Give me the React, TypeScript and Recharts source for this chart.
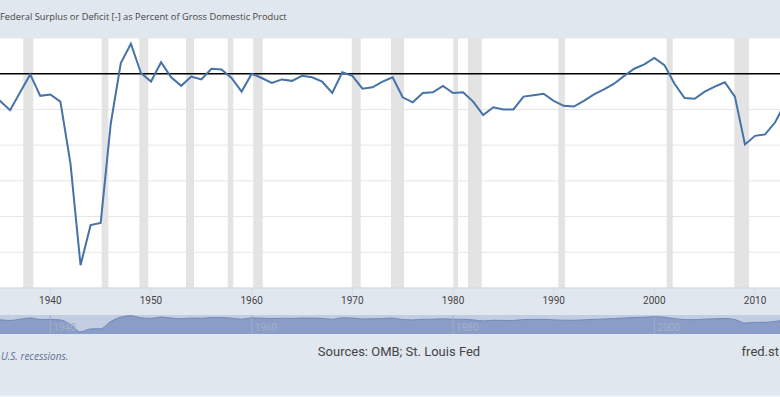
import type { JSX } from 'react';
import {
  Area,
  AreaChart,
  CartesianGrid,
  Line,
  LineChart,
  ReferenceArea,
  ReferenceLine,
  XAxis,
  YAxis,
} from 'recharts';

const years: number[] = [
  1934, 1935, 1936, 1937, 1938, 1939, 1940, 1941, 1942, 1943, 1944, 1945, 1946, 1947, 1948, 1949,
  1950, 1951, 1952, 1953, 1954, 1955, 1956, 1957, 1958, 1959, 1960, 1961, 1962, 1963, 1964, 1965,
  1966, 1967, 1968, 1969, 1970, 1971, 1972, 1973, 1974, 1975, 1976, 1977, 1978, 1979, 1980, 1981,
  1982, 1983, 1984, 1985, 1986, 1987, 1988, 1989, 1990, 1991, 1992, 1993, 1994, 1995, 1996, 1997,
  1998, 1999, 2000, 2001, 2002, 2003, 2004, 2005, 2006, 2007, 2008, 2009, 2010, 2011, 2012, 2013,
  2014,
];

// percent of GDP
const surplusPct: number[] = [
  -5.5, -3.8, -5.1, -2.6, -0.1, -3.1, -2.9, -3.9, -12.6, -26.8, -21.2, -20.9, -7.0, 1.5, 4.2, 0.1,
  -1.1, 1.6, -0.5, -1.7, -0.4, -0.8, 0.7, 0.6, -0.6, -2.5, 0.0, -0.6, -1.3, -0.8, -1.0, -0.3,
  -0.5, -1.1, -2.7, 0.2, -0.3, -2.1, -1.9, -1.1, -0.5, -3.3, -4.0, -2.7, -2.6, -1.7, -2.7, -2.6,
  -3.9, -5.8, -4.7, -5.0, -5.0, -3.2, -3.0, -2.8, -3.8, -4.5, -4.6, -3.8, -2.9, -2.2, -1.4, -0.3,
  0.7, 1.3, 2.2, 1.2, -1.4, -3.4, -3.5, -2.5, -1.8, -1.2, -3.2, -9.9, -8.7, -8.5, -6.8, -4.1,
  -2.8,
];

const recessionStarts: number[] = [
  1937.31, 1945.1, 1948.84, 1953.48, 1957.62, 1960.15, 1969.94, 1973.84, 1980.03, 1981.49,
  1990.46, 2001.22, 2007.94,
];
const recessionEnds: number[] = [
  1938.31, 1945.76, 1949.73, 1954.27, 1958.17, 1961.1, 1970.83, 1975.13, 1980.5, 1982.85,
  1991.12, 2001.82, 2009.4,
];

const xTicks: number[] = [1940, 1950, 1960, 1970, 1980, 1990, 2000, 2010];
const navigatorTicks: number[] = [1940, 1960, 1980, 2000];
const yTicks: number[] = [-30, -25, -20, -15, -10, -5, 0, 5];

const xDomain: [number, number] = [1935.0, 2012.48];

const tableData = years.map((year, i) => ({ year, value: surplusPct[i] }));

const BG = '#e1e7ef';
const LINE = '#4572a7';
const NARROW = '"Liberation Sans Narrow", Roboto, sans-serif';

export default function App(): JSX.Element {
  return (
    <div
      style={{
        position: 'fixed',
        left: 0,
        top: 0,
        width: 780,
        height: 397,
        overflow: 'hidden',
        background: BG,
        fontFamily: '"Open Sans", sans-serif',
      }}
    >
      <div
        style={{
          position: 'absolute',
          left: 0,
          top: 9,
          fontSize: 9.3,
          lineHeight: '15px',
          color: '#444',
          whiteSpace: 'nowrap',
        }}
      >
        Federal Surplus or Deficit [-] as Percent of Gross Domestic Product
      </div>

      <div style={{ position: 'absolute', left: 0, top: 0 }}>
        <LineChart width={780} height={310} data={tableData} margin={{ top: 38, right: 0, left: 0, bottom: 0 }}>
          <CartesianGrid vertical={false} stroke="#e6e6e6" fill="#ffffff" />
          {recessionStarts.map((start, i) => (
            <ReferenceArea
              key={start}
              x1={start}
              x2={recessionEnds[i]}
              fill="#e3e3e3"
              fillOpacity={1}
              stroke="none"
            />
          ))}
          <XAxis
            dataKey="year"
            type="number"
            domain={xDomain}
            allowDataOverflow
            ticks={xTicks}
            height={22}
            tickSize={7}
            tickMargin={2}
            stroke="#d3dae4"
            tick={{ fontSize: 10, fill: '#444', fontFamily: NARROW }}
          />
          <YAxis hide type="number" domain={[-30, 5]} ticks={yTicks} allowDataOverflow />
          <ReferenceLine y={0} stroke="#000" strokeWidth={1.6} />
          <Line
            type="linear"
            dataKey="value"
            stroke={LINE}
            strokeWidth={2}
            dot={false}
            isAnimationActive={false}
          />
        </LineChart>
      </div>

      <div style={{ position: 'absolute', left: 0, top: 315, width: 780, height: 19, background: '#c2cde2' }}>
        <AreaChart width={780} height={19} data={tableData} margin={{ top: 0, right: 0, left: 0, bottom: 0 }}>
          <XAxis dataKey="year" type="number" domain={xDomain} allowDataOverflow hide />
          <YAxis hide type="number" domain={[-31, 5.5]} allowDataOverflow />
          <Area
            type="monotone"
            dataKey="value"
            baseValue="dataMin"
            stroke="#7389bb"
            strokeWidth={1}
            fill="#8a9dc6"
            fillOpacity={1}
            isAnimationActive={false}
          />
          {navigatorTicks.map((t) => (
            <ReferenceLine
              key={t}
              x={t}
              stroke="#9eadcf"
              strokeWidth={1}
              label={{
                value: String(t),
                position: 'insideBottomLeft',
                offset: 3,
                fill: '#a3afcb',
                fontSize: 10,
                fontFamily: NARROW,
              }}
            />
          ))}
        </AreaChart>
      </div>

      <div
        style={{
          position: 'absolute',
          left: 1,
          top: 349,
          fontSize: 10,
          lineHeight: '15px',
          fontStyle: 'italic',
          color: '#5d6f96',
          whiteSpace: 'nowrap',
        }}
      >
        U.S. recessions.
      </div>
      <div
        style={{
          position: 'absolute',
          left: 0,
          width: 798,
          top: 344,
          textAlign: 'center',
          fontSize: 13,
          lineHeight: '16px',
          color: '#444',
          fontFamily: NARROW,
          whiteSpace: 'nowrap',
        }}
      >
        Sources: OMB; St. Louis Fed
      </div>
      <div
        style={{
          position: 'absolute',
          right: 1,
          top: 344,
          fontSize: 13,
          lineHeight: '16px',
          color: '#444',
          fontFamily: NARROW,
          whiteSpace: 'nowrap',
        }}
      >
        fred.st
      </div>
      <div style={{ position: 'absolute', left: 0, top: 395, width: 780, height: 2, background: '#eef1f5' }} />
    </div>
  );
}
